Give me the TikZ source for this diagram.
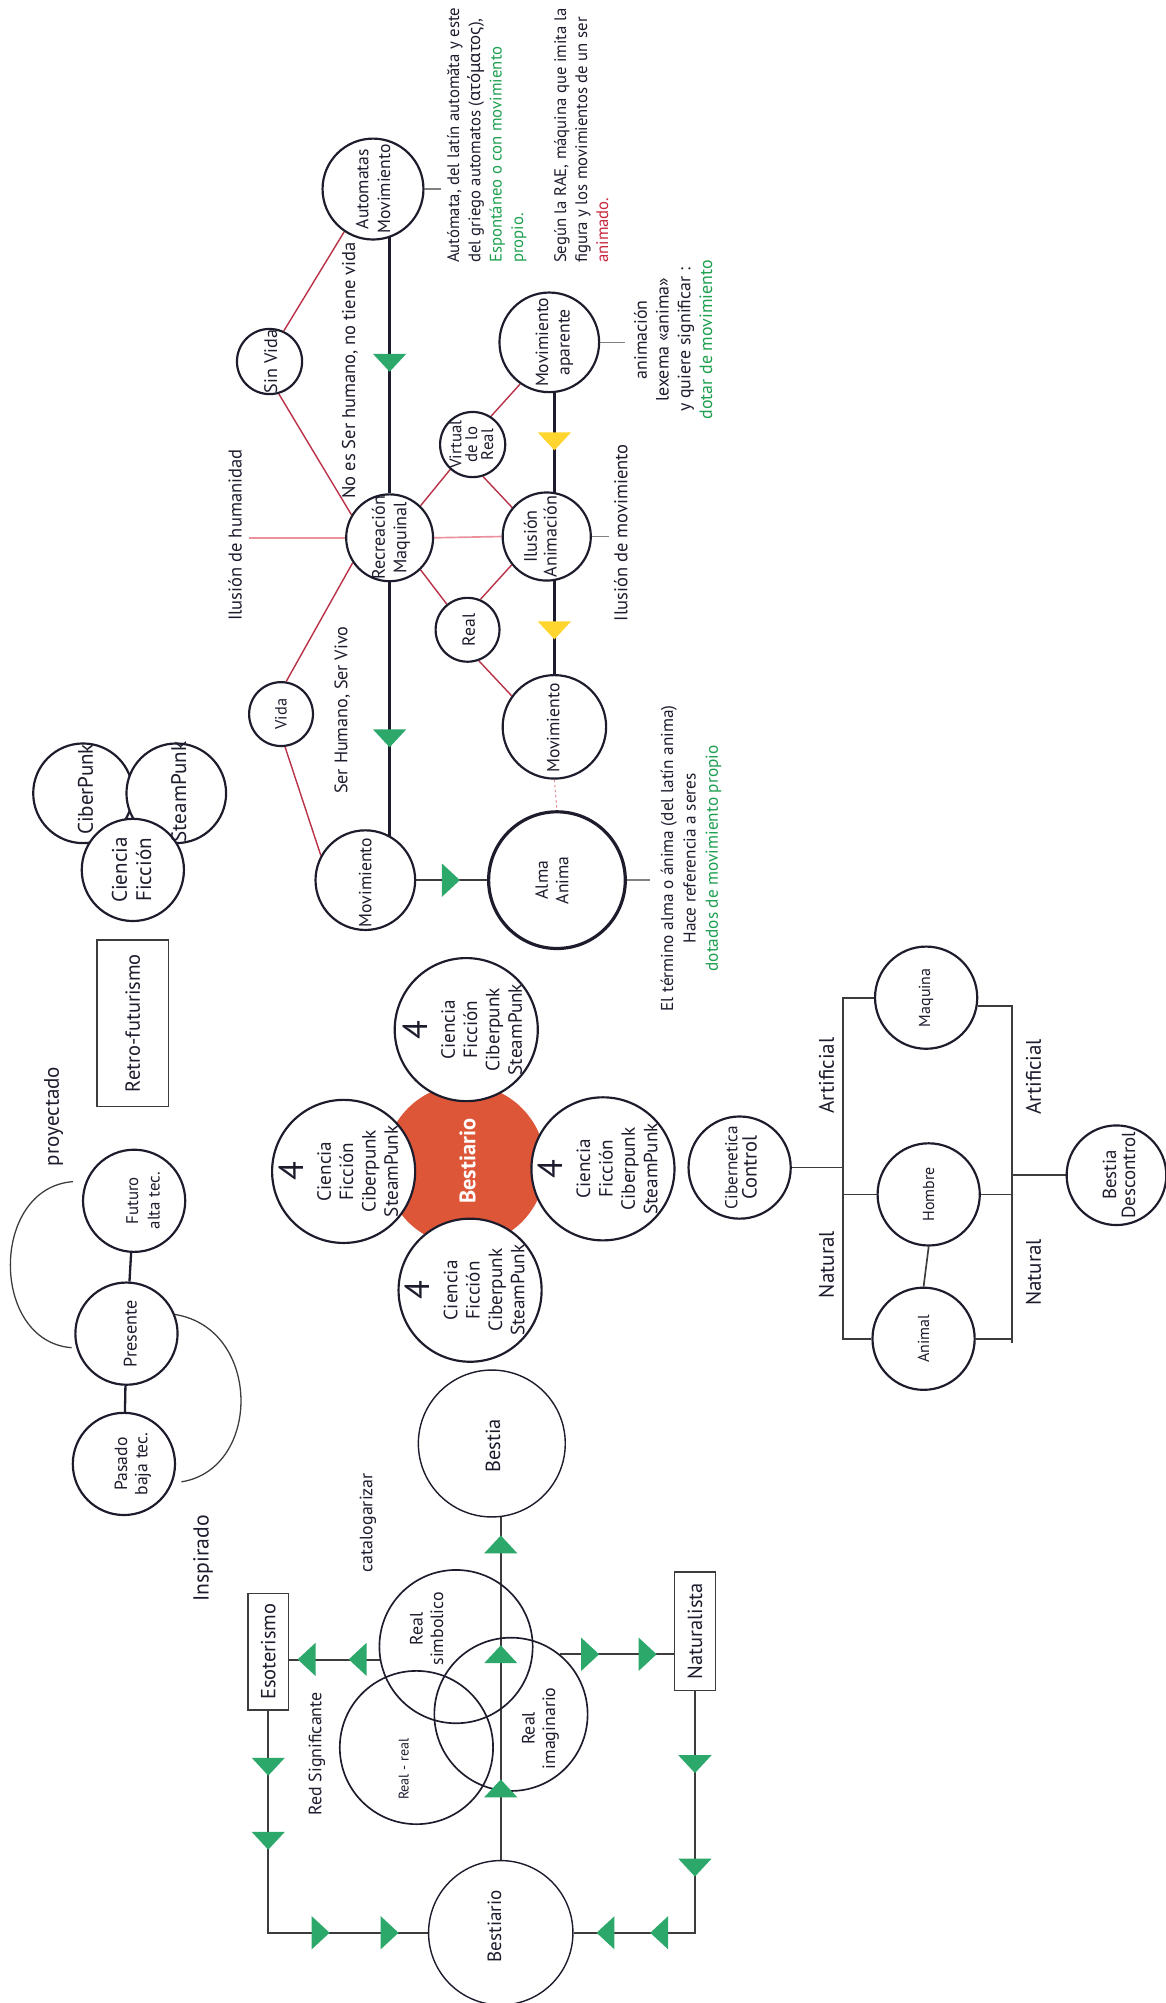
\documentclass[tikz,border=0pt]{standalone}
\usepackage{fontspec}
\setmainfont{PT Sans}
\newfontfamily\grkfont{Noto Sans}
\usetikzlibrary{backgrounds}
\newcommand{\fsz}[2]{\fontsize{#1}{#2}\selectfont}
\definecolor{ink}{RGB}{28,28,45}
\definecolor{wirec}{RGB}{60,60,60}
\definecolor{crimson}{RGB}{185,50,72}
\definecolor{rose}{RGB}{234,145,156}
\definecolor{grn}{RGB}{44,168,106}
\definecolor{yel}{RGB}{255,213,46}
\definecolor{flame}{RGB}{222,86,56}
\definecolor{txtgreen}{RGB}{30,160,80}
\definecolor{txtred}{RGB}{200,40,62}
\tikzset{
  ring/.style={circle, draw=ink, line width=1.7pt, fill=white, inner sep=0pt, minimum size=#1},
  thinring/.style={circle, draw=ink, line width=1.1pt, fill=white, inner sep=0pt, minimum size=#1},
  openring/.style={circle, draw=ink, line width=1.3pt, inner sep=0pt, minimum size=#1},
  rt/.style={rotate=90, align=center, text=ink, inner sep=0pt, font=\fsz{13.8}{17}},
  lbox/.style={draw=wirec, line width=1.1pt, fill=white, inner sep=0pt},
  crim/.style={draw=crimson, line width=1.1pt},
  pinkln/.style={draw=rose, line width=1.3pt},
  pdash/.style={draw=rose, line width=0.8pt, dash pattern=on 2pt off 2pt},
  spine/.style={draw=ink, line width=2.1pt},
  wire/.style={draw=wirec, line width=1.3pt},
  arcline/.style={draw=wirec, line width=1pt},
  tri/.pic={\fill[pic actions] (-13,-7) -- (13,-7) -- (0,7) -- cycle;},
}
\begin{document}
\begin{tikzpicture}[x=1pt,y=-1pt]
\useasboundingbox (0,0) rectangle (912,1568);
\begin{scope}[on background layer]
  \fill[white] (0,0) rectangle (912,1568);
\end{scope}

% ---------- animation network ----------
\node[ring=79] (auto) at (292,148) {};
\node[rt] (autoT) at (292,148) {Automatas\\Movimiento};
\node[ring=51] (sinv) at (211,283) {};
\node[rt, font=\fsz{14.2}{16}] (sinvT) at (212,283) {Sin Vida};
\node[ring=68] (rec) at (305,421) {};
\node[rt, font=\fsz{14.2}{17}] (recT) at (306,421) {Recreación\\Maquinal};
\node[ring=51] (virt) at (370,348) {};
\node[rt, font=\fsz{13.2}{12.5}] (virtT) at (369,348) {Virtual\\de lo\\Real};
\node[ring=78] (movap) at (430,268) {};
\node[rt] (movapT) at (434,268) {Movimiento\\aparente};
\node[ring=69] (ilu) at (428,420) {};
\node[rt, font=\fsz{14.2}{15.5}] (iluT) at (423,420) {Ilusión\\Animación};
\node[ring=50] (real) at (366,493) {};
\node[rt] (realT) at (367,493) {Real};
\node[ring=50] (vida) at (220,559) {};
\node[rt, font=\fsz{12.8}{14}] (vidaT) at (220,559) {Vida};
\node[ring=81] (movc) at (434,569) {};
\node[rt] (movcT) at (433,570) {Movimiento};
\node[ring=78] (movl) at (286,689) {};
\node[rt] (movlT) at (286,691) {Movimiento};
\node[circle, draw=ink, line width=2.5pt, fill=white, inner sep=0pt, minimum size=107] (alma) at (436,689) {};
\node[rt, font=\fsz{13.8}{16}] (almaT) at (432,689) {Alma\\Anima};

\coordinate (humL) at (195,421);
\coordinate (autoEnd) at (345,148);
\coordinate (movapEnd) at (489,268);
\coordinate (iluEnd) at (477,420);
\coordinate (almaEnd) at (509,689);

\node[rt, font=\fsz{14.5}{17}] (humLbl) at (184,419) {Ilusión de humanidad};
\node[rt, font=\fsz{14.5}{17}] (noHum) at (274,290) {No es Ser humano, no tiene vida};
\node[rt, font=\fsz{14.2}{17}] (siHum) at (268,556) {Ser Humano, Ser Vivo};
\node[rt, font=\fsz{14.5}{17}] (iluMov) at (486,417) {Ilusión de movimiento};

\node[rt, align=left, anchor=west, font=\fsz{13.1}{16.7}] (autoNote) at (381,206)
  {Autómata, del latín automăta y este\\
   del griego automatos ({\grkfont ατόματος}),\\
   \textcolor{txtgreen}{Espontáneo o con movimiento}\\
   \textcolor{txtgreen}{propio.}};
\node[rt, align=left, anchor=west, font=\fsz{13.1}{16.5}] (raeNote) at (455,206)
  {Según la RAE, máquina que imita la\\
   figura y los movimientos de un ser\\
   \textcolor{txtred}{animado.}};
\node[rt, font=\fsz{14}{17}] (animNote) at (527,266)
  {animación\\ lexema «anima»\\ y quiere significar :\\ \textcolor{txtgreen}{dotar de movimiento}};
\node[rt, font=\fsz{13.5}{17.5}] (almaNote) at (541,672)
  {El término alma o ánima (del latín anima)\\ Hace referencia a seres\\ \textcolor{txtgreen}{dotados de movimiento propio}};

\begin{scope}[on background layer]
  \draw[crim] (auto.236) -- (sinv.65);
  \draw[crim] (sinv.-74) -- (rec.149);
  \draw[crim] (rec.214) -- (vida.81);
  \draw[crim] (vida.-83) -- (movl.151);
  \draw[crim] (rec.46) -- (virt.228);
  \draw[crim] (virt.57) -- (movap.235);
  \draw[crim] (virt.-72) -- (ilu.140);
  \draw[crim] (rec.-46) -- (real.129);
  \draw[crim] (real.67) -- (ilu.219);
  \draw[crim] (real.-70) -- (movc.144);
  \draw[pinkln] (humL) -- (rec.west);
  \draw[pinkln] (rec.east) -- (ilu.west);
  \draw[spine] (rec.north) -- (rec.north |- auto.center);
  \draw[spine] (rec.south) -- (rec.south |- movl.center);
  \draw[spine] (movc.north) -- (movc.north |- movap.center);
  \draw[wire] (movl.east) -- (alma.west);
  \draw[pdash] (movc.south) -- (alma.north);
  \draw[wire, draw=gray] (auto.east) -- (autoEnd);
  \draw[wire, draw=gray] (movap.east) -- (movapEnd);
  \draw[wire, draw=gray] (ilu.east) -- (iluEnd);
  \draw[wire, draw=gray] (alma.east) -- (almaEnd);
\end{scope}

\pic[fill=grn] at (305,284) {tri};
\pic[fill=grn] at (305,578) {tri};
\pic[fill=yel] at (434,345.5) {tri};
\pic[fill=yel] at (434,493.5) {tri};
\pic[fill=grn, rotate=90] at (353,689) {tri};

% ---------- science-fiction cluster ----------
\node[ring=78] (ciber) at (65,621) {};
\node[ring=78] (steam) at (138,621) {};
\node[ring=80] (cf) at (104,681) {};
\node[rt, font=\fsz{16.5}{18}] (ciberT) at (67,618) {CiberPunk};
\node[rt, font=\fsz{16.5}{18}] (steamT) at (140,620) {SteamPunk};
\node[rt, font=\fsz{16.5}{19}] (cfT) at (103,681) {Ciencia\\Ficción};

\node[lbox, minimum width=56, minimum height=130] (retro) at (104,801) {};
\node[rt, font=\fsz{16}{18}] (retroT) at (retro) {Retro-futurismo};
\node[rt, font=\fsz{16.5}{18}] (proy) at (42,874) {proyectado};

% ---------- time line ----------
\node[ring=80] (fut) at (105,940) {};
\node[ring=80] (pres) at (99,1044) {};
\node[ring=80] (pas) at (97,1146) {};
\node[rt, font=\fsz{13.2}{17}] (futT) at (112,940) {Futuro\\alta tec.};
\node[rt, font=\fsz{14.2}{16}] (presT) at (102,1044) {Presente};
\node[rt, font=\fsz{13.8}{16}] (pasT) at (104,1146) {Pasado\\baja tec.};
\node[rt, font=\fsz{17}{18}] (insp) at (159,1220) {Inspirado};
\coordinate (arcA1) at (57,925);
\coordinate (arcA2) at (56,1055);
\coordinate (arcB1) at (137,1029);
\coordinate (arcB2) at (142,1160);
\begin{scope}[on background layer]
  \draw[spine, line width=1.8pt] (fut) -- (pres);
  \draw[spine, line width=1.8pt] (pres) -- (pas);
  \draw[arcline] (arcA1) .. controls (-8,930) and (-8,1050) .. (arcA2);
  \draw[arcline] (arcB1) .. controls (205,1040) and (205,1150) .. (arcB2);
\end{scope}

% ---------- bestiario flower ----------
\node[circle, fill=flame, inner sep=0pt, minimum size=126] (core) at (364,912) {};
\node[ring=112] (petalT) at (365,806) {};
\node[ring=112] (petalL) at (269,917) {};
\node[ring=112] (petalR) at (472,915) {};
\node[ring=112] (petalB) at (368,1010) {};
\node[rt, font=\fsz{15}{17.5}] (petalTT) at (362,806) {{\fsz{27}{26}4}\\[4pt]Ciencia\\Ficción\\Ciberpunk\\SteamPunk};
\node[rt, font=\fsz{15}{17.5}] (petalLT) at (265,917) {{\fsz{27}{26}4}\\[4pt]Ciencia\\Ficción\\Ciberpunk\\SteamPunk};
\node[rt, font=\fsz{15}{17.5}] (petalRT) at (468,915) {{\fsz{27}{26}4}\\[4pt]Ciencia\\Ficción\\Ciberpunk\\SteamPunk};
\node[rt, font=\fsz{15}{17.5}] (petalBT) at (364,1010) {{\fsz{27}{26}4}\\[4pt]Ciencia\\Ficción\\Ciberpunk\\SteamPunk};
\node[rt, text=white, font=\bfseries\fsz{17.5}{20}] (coreT) at (366,909) {Bestiario};

% ---------- cybernetics ----------
\node[ring=80] (ciberc) at (579,914) {};
\node[rt, font=\fsz{13.5}{15}] (cibercT) at (580,914) {Cibernetica\\{\fsz{16}{15}Control}};
\node[ring=80] (maq) at (725,781) {};
\node[rt, font=\fsz{12.5}{14}] (maqT) at (725,781) {Maquina};
\node[ring=80] (hom) at (727,935) {};
\node[rt, font=\fsz{12.5}{14}] (homT) at (727,935) {Hombre};
\node[ring=80] (anim) at (723,1048) {};
\node[rt, font=\fsz{12.5}{14}] (animT) at (723,1048) {Animal};
\node[ring=78] (bdes) at (874,920) {};
\node[rt, font=\fsz{14.8}{15}] (bdesT) at (876,920) {Bestia\\Descontrol};
\node[rt, font=\fsz{16.5}{18}] (artL) at (647,842) {Artificial};
\node[rt, font=\fsz{16.5}{18}] (natL) at (647,990) {Natural};
\node[rt, font=\fsz{16.5}{18}] (artR) at (809,843) {Artificial};
\node[rt, font=\fsz{16.5}{18}] (natR) at (809,996) {Natural};
\coordinate (busL) at (660,1048);
\coordinate (busR) at (792,1048);
\begin{scope}[on background layer]
  \draw[wire] (maq.west) -| (busL) -- (anim.west);
  \draw[wire] (hom.west) -- (hom.west -| busL);
  \draw[wire] (ciberc.east) -- (ciberc.east -| busL);
  \draw[wire] (maq.-9) -| (busR) -- (anim.east);
  \draw[wire] (busR) -- ++(0,3);
  \draw[wire] (hom.east) -- (hom.east -| busR);
  \draw[wire] (bdes.west) -- (bdes.west -| busR);
  \draw[wire] (hom.south) -- (anim.north);
\end{scope}

% ---------- bestiary taxonomy ----------
\node[thinring=115] (bestia) at (385,1130) {};
\node[rt, font=\fsz{16}{18}] (bestiaT) at (386,1132) {Bestia};
\node[thinring=113] (bestiario) at (392,1513) {};
\node[rt, font=\fsz{15}{18}] (bestiarioT) at (387,1508) {Bestiario};
\node[openring=120] (rsim) at (357,1289) {};
\node[openring=120] (rimag) at (400,1342) {};
\node[openring=120] (rreal) at (326,1368) {};
\node[rt, font=\fsz{14}{16}] (rsimT) at (334,1275) {Real\\simbolico};
\node[rt, font=\fsz{14}{16}] (rimagT) at (423,1353) {Real\\imaginario};
\node[rt, font=\fsz{11}{12}] (rrealT) at (316,1385) {Real - real};
\node[lbox, minimum width=32, minimum height=91] (esot) at (210,1293) {};
\node[rt, font=\fsz{16}{18}] (esotT) at (esot) {Esoterismo};
\node[lbox, minimum width=32, minimum height=93] (nat) at (544,1277) {};
\node[rt, font=\fsz{16}{18}] (natT) at (nat) {Naturalista};
\node[rt, font=\fsz{14}{16}] (catal) at (288,1192) {catalogarizar};
\node[rt, font=\fsz{14}{16}] (redsig) at (248,1373) {Red Significante};
\begin{scope}[on background layer]
  \draw[wire] (bestiario.center) -- (bestiario.center |- bestia.center);
  \draw[wire] (rsim.190) -- (rsim.190 -| esot.east);
  \draw[wire] (rimag.51.5) -- (rimag.51.5 -| nat.west);
  \draw[wire] (esot.south) |- (bestiario.west);
  \draw[wire] (nat.south) |- (bestiario.east);
\end{scope}
\pic[fill=grn, rotate=180] at (392,1209) {tri};
\pic[fill=grn, rotate=180] at (392,1295) {tri};
\pic[fill=grn, rotate=180] at (392,1400) {tri};
\pic[fill=grn, rotate=-90] at (240,1299) {tri};
\pic[fill=grn, rotate=-90] at (280,1299) {tri};
\pic[fill=grn] at (210,1383) {tri};
\pic[fill=grn] at (210,1441) {tri};
\pic[fill=grn, rotate=90] at (251,1513) {tri};
\pic[fill=grn, rotate=90] at (305,1513) {tri};
\pic[fill=grn, rotate=90] at (462,1295) {tri};
\pic[fill=grn, rotate=90] at (507,1295) {tri};
\pic[fill=grn] at (544,1381) {tri};
\pic[fill=grn] at (544,1462) {tri};
\pic[fill=grn, rotate=-90] at (474,1513) {tri};
\pic[fill=grn, rotate=-90] at (516,1513) {tri};
\end{tikzpicture}
\end{document}
